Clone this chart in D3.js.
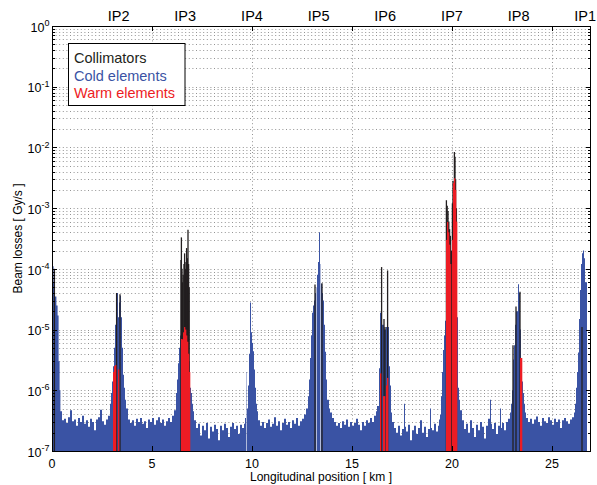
<!DOCTYPE html>
<html>
<head>
<meta charset="utf-8">
<script src="https://cdn.jsdelivr.net/npm/d3@7"></script>
<style>
  body { margin: 0; background: #fff; }
</style>
</head>
<body>
<script>
// tick labels / IP markers
var xTickValues = [0, 5, 10, 15, 20, 25];
var ipNames = ["IP2", "IP3", "IP4", "IP5", "IP6", "IP7", "IP8", "IP1"];
var ipKm = [3.33, 6.66, 10.0, 13.33, 16.66, 20.0, 23.33, 26.66];
var legendNames = ["Collimators", "Cold elements", "Warm elements"];

// cold elements: [km, Gy/s], step starting at km
var cold = [
  [0, 4e-4], [0.03, 1.1e-4], [0.08, 6e-5], [0.15, 3.5e-5], [0.22, 2.5e-5], [0.28, 1.7e-5],
  [0.33, 3e-6], [0.38, 1e-6], [0.42, 4.5e-7], [0.5, 3.2e-7], [0.6, 3.4e-7], [0.7, 2.9e-7],
  [0.8, 3.6e-7], [0.9, 4.7e-7], [1.0, 3.1e-7], [1.1, 3.3e-7], [1.2, 2.6e-7], [1.3, 3.5e-7],
  [1.4, 3e-7], [1.5, 3.8e-7], [1.6, 2.8e-7], [1.7, 3.2e-7], [1.8, 2.5e-7], [1.9, 3.4e-7],
  [2.0, 3e-7], [2.1, 2.2e-7], [2.2, 3.3e-7], [2.3, 3.6e-7], [2.4, 4.8e-7], [2.5, 3.1e-7],
  [2.6, 2.7e-7], [2.7, 3.3e-7], [2.8, 3.8e-7], [2.9, 6e-7], [2.95, 9e-7], [3.0, 1.4e-6],
  [3.05, 2.5e-6], [3.1, 5e-6], [3.15, 1.2e-5], [3.2, 2.5e-5], [3.25, 4e-5], [3.3, 1.6e-5],
  [3.35, 2.8e-5], [3.4, 3.6e-5], [3.45, 1.6e-5], [3.5, 5e-6], [3.55, 1.8e-6], [3.6, 1.1e-6],
  [3.65, 7e-7], [3.7, 5e-7], [3.8, 3.3e-7], [3.9, 2.9e-7], [4.0, 3.2e-7], [4.1, 2.6e-7],
  [4.2, 3.4e-7], [4.3, 3e-7], [4.4, 3.5e-7], [4.5, 2.8e-7], [4.6, 3.1e-7], [4.7, 2.4e-7],
  [4.8, 3.3e-7], [4.9, 3e-7], [5.0, 3.5e-7], [5.1, 2.7e-7], [5.2, 3.2e-7], [5.3, 3.6e-7],
  [5.4, 2.9e-7], [5.5, 3.3e-7], [5.6, 2.6e-7], [5.7, 3.1e-7], [5.8, 3.5e-7], [5.9, 3e-7],
  [6.0, 3.8e-7], [6.1, 4.7e-7], [6.2, 9e-7], [6.25, 1.5e-6], [6.3, 2.8e-6], [6.35, 5e-6],
  [6.4, 8e-6], [6.45, 9e-6], [6.5, 1e-5], [6.6, 1.2e-5], [6.7, 9e-6], [6.8, 6e-6],
  [6.85, 3e-6], [6.9, 1.1e-6], [6.95, 9e-7], [7.0, 6e-7], [7.05, 4.5e-7], [7.1, 3.2e-7],
  [7.2, 2.4e-7], [7.3, 2.8e-7], [7.4, 1.8e-7], [7.5, 2.6e-7], [7.6, 2.2e-7], [7.7, 2.9e-7],
  [7.8, 1.6e-7], [7.9, 2.5e-7], [8.0, 2.1e-7], [8.1, 2.7e-7], [8.2, 2.3e-7], [8.3, 1.5e-7],
  [8.4, 2.6e-7], [8.5, 2.2e-7], [8.6, 2.8e-7], [8.7, 2.4e-7], [8.8, 1.7e-7], [8.9, 2.5e-7],
  [9.0, 2.9e-7], [9.1, 2.3e-7], [9.2, 2.6e-7], [9.3, 1.9e-7], [9.4, 2.7e-7], [9.5, 2.4e-7],
  [9.6, 2.8e-7], [9.65, 3.5e-7], [9.7, 2e-6], [9.72, 1e-7], [9.75, 5e-7], [9.8, 1.2e-6], [9.85, 4e-6],
  [9.9, 2.8e-5], [9.95, 9e-6], [10.0, 6e-6], [10.05, 4.4e-6], [10.1, 2.2e-6], [10.15, 1.1e-6],
  [10.2, 6e-7], [10.25, 4.5e-7], [10.3, 3.2e-7], [10.4, 2.6e-7], [10.5, 3e-7], [10.6, 2.4e-7],
  [10.7, 2.9e-7], [10.8, 3.3e-7], [10.9, 2.5e-7], [11.0, 2.8e-7], [11.1, 3.6e-7], [11.2, 2.6e-7],
  [11.3, 3.1e-7], [11.4, 2.2e-7], [11.5, 2.9e-7], [11.6, 3.4e-7], [11.7, 2.7e-7], [11.8, 3e-7],
  [11.9, 2.4e-7], [12.0, 3.2e-7], [12.1, 2.8e-7], [12.2, 3.5e-7], [12.3, 2.6e-7], [12.4, 3.1e-7],
  [12.5, 3.4e-7], [12.6, 4e-7], [12.7, 5e-7], [12.8, 8e-7], [12.85, 1.5e-6], [12.9, 3.4e-6],
  [12.95, 8e-6], [13.0, 1.9e-5], [13.05, 2.5e-5], [13.1, 3e-5], [13.15, 4e-5], [13.2, 5e-5],
  [13.22, 1e-7], [13.25, 8e-5], [13.3, 1.3e-4], [13.35, 4e-4], [13.4, 1.2e-4], [13.42, 1e-7],
  [13.45, 5.7e-5], [13.5, 4e-5],
  [13.55, 3e-5], [13.6, 1.2e-5], [13.65, 4.3e-6], [13.7, 1.5e-6], [13.75, 7e-7], [13.85, 5e-7],
  [13.9, 4.3e-7], [14.0, 3.5e-7], [14.1, 3e-7], [14.2, 2.6e-7], [14.3, 2.9e-7], [14.4, 2.4e-7],
  [14.5, 3.1e-7], [14.6, 2.7e-7], [14.7, 3.3e-7], [14.8, 2.5e-7], [14.9, 3e-7], [15.0, 2.6e-7],
  [15.1, 2.9e-7], [15.2, 3.4e-7], [15.3, 2.7e-7], [15.4, 2.2e-7], [15.5, 3e-7], [15.6, 2.6e-7],
  [15.7, 3.2e-7], [15.8, 2.9e-7], [15.9, 3.5e-7], [16.0, 3e-7], [16.1, 3.8e-7], [16.2, 4.5e-7],
  [16.25, 5.5e-7], [16.35, 2.3e-6], [16.4, 1.9e-5], [16.5, 1.2e-5], [16.6, 1e-5], [16.7, 1.1e-5],
  [16.85, 2.5e-6], [16.9, 1.2e-6], [16.95, 4.3e-7], [17.0, 3e-7], [17.1, 2.4e-7], [17.2, 2e-7],
  [17.3, 2.6e-7], [17.4, 1.8e-7], [17.5, 2.3e-7], [17.6, 6e-7], [17.65, 2.5e-7], [17.7, 2.1e-7],
  [17.8, 2.7e-7], [17.9, 1.5e-7], [18.0, 2.2e-7], [18.1, 2.6e-7], [18.2, 1.9e-7], [18.3, 2.4e-7],
  [18.4, 3.2e-7], [18.5, 2e-7], [18.6, 2.5e-7], [18.7, 1.7e-7], [18.8, 2.3e-7], [18.9, 5e-7],
  [18.95, 2.4e-7], [19.0, 2.2e-7], [19.1, 2.8e-7], [19.2, 2.1e-7], [19.3, 2.6e-7], [19.35, 3.3e-7],
  [19.4, 4e-7], [19.45, 8e-7], [19.5, 2e-6], [19.55, 4.6e-6], [19.6, 8e-6], [19.65, 1.4e-5],
  [19.7, 3e-5], [19.8, 5e-5], [19.9, 4e-5], [20.0, 3e-5], [20.1, 4e-5], [20.2, 2e-5],
  [20.25, 1.6e-5], [20.3, 1.1e-6], [20.35, 7e-7], [20.4, 4.7e-7], [20.5, 3.2e-7], [20.6, 2.3e-7],
  [20.7, 2.8e-7], [20.8, 2e-7], [20.9, 3.2e-7], [21.0, 2.4e-7], [21.1, 1.7e-7], [21.2, 2.7e-7],
  [21.3, 2.2e-7], [21.4, 3e-7], [21.5, 2.5e-7], [21.6, 1.6e-7], [21.7, 2.6e-7], [21.8, 3.4e-7],
  [21.9, 7e-7], [21.95, 2.8e-7], [22.0, 2.3e-7], [22.1, 2.9e-7], [22.2, 1.9e-7], [22.3, 2.6e-7],
  [22.4, 5e-7], [22.45, 2.4e-7], [22.5, 2.9e-7], [22.6, 2.2e-7], [22.7, 3e-7], [22.8, 3.4e-7],
  [22.9, 4.3e-7], [22.95, 6e-7], [23.0, 1e-6], [23.05, 3.2e-6], [23.1, 5.5e-6], [23.15, 1.2e-5],
  [23.2, 2e-5], [23.3, 5.6e-5], [23.35, 4e-5], [23.4, 1e-5], [23.45, 3e-6], [23.5, 1.4e-6],
  [23.55, 9e-7], [23.6, 6e-7], [23.65, 4.3e-7], [23.7, 3.5e-7], [23.8, 3e-7], [23.9, 3.4e-7],
  [24.0, 2.8e-7], [24.1, 3.3e-7], [24.2, 3.7e-7], [24.3, 3e-7], [24.4, 2.6e-7], [24.5, 3.5e-7],
  [24.6, 3.1e-7], [24.7, 2.9e-7], [24.8, 3.6e-7], [24.9, 3.2e-7], [25.0, 2.7e-7], [25.1, 3.4e-7],
  [25.2, 3e-7], [25.3, 3.3e-7], [25.4, 2.4e-7], [25.5, 3.2e-7], [25.6, 3.5e-7], [25.7, 3.1e-7],
  [25.8, 2.8e-7], [25.9, 3.3e-7], [26.0, 3.6e-7], [26.1, 4.3e-7], [26.15, 6e-7], [26.2, 1.1e-6],
  [26.25, 2e-6], [26.3, 4.2e-6], [26.35, 1.5e-5], [26.4, 4.5e-5], [26.45, 1.2e-4], [26.5, 1.8e-4],
  [26.55, 2e-4], [26.6, 1.5e-4], [26.65, 6e-5], [26.75, 1e-7]
];

// warm elements: [km, Gy/s], 0.05 km bins
var warm = [
  [3.05, 2e-6], [3.1, 2.5e-6], [3.15, 2.6e-6], [3.3, 2.2e-6],
  [6.45, 7e-6], [6.5, 6.9e-6], [6.55, 9e-6], [6.6, 1.1e-5], [6.65, 1e-5], [6.7, 8e-6],
  [6.75, 6.3e-6], [6.8, 4e-6], [6.85, 2e-6],
  [16.4, 1.9e-6], [16.55, 8e-7], [16.6, 8e-7], [16.7, 1.2e-6], [16.75, 1.6e-6],
  [19.7, 3e-4], [19.75, 5.9e-4], [19.8, 4e-4], [19.85, 2.5e-4], [19.9, 1.2e-4],
  [20.0, 3e-4], [20.05, 2.6e-3], [20.1, 3.1e-3], [20.15, 2e-3], [20.2, 6e-4],
  [23.4, 3.4e-6], [23.45, 3.4e-6]
];

// collimators: [km, Gy/s]
var collimators = [
  [0.12, 1e-4],
  [3.23, 4e-5], [3.4, 3.8e-5],
  [6.45, 1.4e-4], [6.47, 3.3e-4], [6.5, 1e-4], [6.53, 6e-5], [6.56, 8e-5], [6.6, 1.2e-4],
  [6.63, 1.8e-4], [6.67, 1e-4], [6.7, 1.3e-4], [6.73, 2.2e-4], [6.77, 1.5e-4], [6.8, 4.4e-4],
  [6.83, 1.2e-4], [6.86, 5e-5],
  [13.15, 5.5e-5], [13.5, 5.8e-5],
  [16.48, 1.07e-4], [16.6, 1.5e-5], [16.65, 1.1e-5], [16.78, 9.4e-5],
  [19.72, 1.35e-3], [19.76, 1.1e-3], [19.8, 9e-4], [19.84, 6e-4], [19.88, 4.5e-4],
  [19.92, 3.5e-4], [19.98, 2e-4], [20.02, 1.2e-3], [20.05, 2.8e-3], [20.08, 2e-3],
  [20.12, 8.4e-3], [20.15, 7e-3], [20.18, 3e-3], [20.22, 1e-3],
  [23.05, 5.5e-6], [23.2, 2.4e-5], [23.4, 4.2e-5],
  [26.5, 1.1e-5]
];

var colBlue = "#3a53a4", colRed = "#ed1c24", colBlack = "#231f20";
var font = "'Liberation Sans', Arial, Helvetica, sans-serif";

var plotL = 52, plotR = 591, plotT = 26, plotB = 451;

var x = d3.scaleLinear().domain([0, 26.95]).range([plotL, plotR]);
var y = d3.scaleLog().domain([1e-7, 1]).range([plotB, plotT]);

var svg = d3.select("body")
  .append("svg")
    .attr("width", 597)
    .attr("height", 485)
    .style("font-family", font);

svg.append("defs").append("clipPath").attr("id", "plotclip")
  .append("rect")
    .attr("x", plotL).attr("y", plotT)
    .attr("width", plotR - plotL).attr("height", plotB - plotT);

var yTicks = y.ticks();
var isMajor = function(d) { return Math.abs(Math.log10(d) - Math.round(Math.log10(d))) < 1e-6; };

// dotted grid
var grid = svg.append("g")
  .attr("stroke", "#666")
  .attr("stroke-width", 0.7)
  .attr("stroke-dasharray", "1,2.6");

grid.selectAll("line.h")
  .data(yTicks.filter(function(d) { return d > 1e-7 && d < 1; }))
  .enter().append("line")
    .attr("class", "h")
    .attr("x1", plotL).attr("x2", plotR)
    .attr("y1", function(d) { return Math.round(y(d)) + 0.5; })
    .attr("y2", function(d) { return Math.round(y(d)) + 0.5; });

grid.selectAll("line.v")
  .data(xTickValues.filter(function(d) { return d > 0; }))
  .enter().append("line")
    .attr("class", "v")
    .attr("y1", plotT).attr("y2", plotB)
    .attr("x1", function(d) { return Math.round(x(d)) + 0.5; })
    .attr("x2", function(d) { return Math.round(x(d)) + 0.5; });

var plot = svg.append("g").attr("clip-path", "url(#plotclip)");

// cold elements
var area = d3.area()
  .curve(d3.curveStepAfter)
  .x(function(d) { return x(d[0]); })
  .y0(y(1e-7))
  .y1(function(d) { return y(d[1]); });

plot.append("path")
  .datum(cold)
  .attr("d", area)
  .attr("fill", colBlue);

// collimators
plot.selectAll("line.coll")
  .data(collimators)
  .enter().append("line")
    .attr("class", "coll")
    .attr("x1", function(d) { return x(d[0]); })
    .attr("x2", function(d) { return x(d[0]); })
    .attr("y1", y(1e-7))
    .attr("y2", function(d) { return y(d[1]); })
    .attr("stroke", colBlack)
    .attr("stroke-width", 1.3);

// warm elements
plot.selectAll("rect.warm")
  .data(warm)
  .enter().append("rect")
    .attr("class", "warm")
    .attr("x", function(d) { return x(d[0]); })
    .attr("width", function(d) { return x(d[0] + 0.05) - x(d[0]) + 0.3; })
    .attr("y", function(d) { return y(d[1]); })
    .attr("height", function(d) { return y(1e-7) - y(d[1]); })
    .attr("fill", colRed);

// frame
svg.append("rect")
  .attr("x", plotL + 0.5).attr("y", plotT + 0.5)
  .attr("width", plotR - plotL - 1).attr("height", plotB - plotT)
  .attr("fill", "none")
  .attr("stroke", "#000")
  .attr("stroke-width", 1);

// y ticks (left and right)
var ticks = svg.append("g").attr("stroke", "#000").attr("stroke-width", 1);
ticks.selectAll("line.yl")
  .data(yTicks)
  .enter().append("line")
    .attr("class", "yl")
    .attr("x1", plotL).attr("x2", function(d) { return plotL + (isMajor(d) ? 5 : 3); })
    .attr("y1", function(d) { return Math.round(y(d)) + 0.5; })
    .attr("y2", function(d) { return Math.round(y(d)) + 0.5; });
ticks.selectAll("line.yr")
  .data(yTicks)
  .enter().append("line")
    .attr("class", "yr")
    .attr("x1", plotR).attr("x2", function(d) { return plotR - (isMajor(d) ? 5 : 3); })
    .attr("y1", function(d) { return Math.round(y(d)) + 0.5; })
    .attr("y2", function(d) { return Math.round(y(d)) + 0.5; });

// x ticks (bottom and top)
ticks.selectAll("line.xb")
  .data(xTickValues)
  .enter().append("line")
    .attr("class", "xb")
    .attr("x1", function(d) { return Math.round(x(d)) + 0.5; })
    .attr("x2", function(d) { return Math.round(x(d)) + 0.5; })
    .attr("y1", plotB).attr("y2", plotB - 5);
ticks.selectAll("line.xt")
  .data(xTickValues)
  .enter().append("line")
    .attr("class", "xt")
    .attr("x1", function(d) { return Math.round(x(d)) + 0.5; })
    .attr("x2", function(d) { return Math.round(x(d)) + 0.5; })
    .attr("y1", plotT).attr("y2", plotT + 5);

// y tick labels
var ylab = svg.selectAll("text.ylab")
  .data(yTicks.filter(isMajor))
  .enter().append("text")
    .attr("class", "ylab")
    .attr("x", 49.5)
    .attr("y", function(d) { return y(d) + 5.7; })
    .attr("text-anchor", "end")
    .style("font-size", "12.5px")
    .text("10");
ylab.append("tspan")
  .attr("dy", -5.5)
  .style("font-size", "9px")
  .text(function(d) { return String(Math.round(Math.log10(d))); });

// x tick labels
svg.selectAll("text.xlab")
  .data(xTickValues)
  .enter().append("text")
    .attr("class", "xlab")
    .attr("x", function(d) { return x(d); })
    .attr("y", 467.5)
    .attr("text-anchor", "middle")
    .style("font-size", "12.5px")
    .text(function(d) { return d; });

// IP labels
svg.selectAll("text.ip")
  .data(ipNames)
  .enter().append("text")
    .attr("class", "ip")
    .attr("x", function(d, i) { return x(ipKm[i]); })
    .attr("y", 21)
    .attr("text-anchor", "middle")
    .style("font-size", "14.5px")
    .text(function(d) { return d; });

// axis titles
svg.append("text")
  .attr("x", 321).attr("y", 481)
  .attr("text-anchor", "middle")
  .style("font-size", "12px")
  .text("Longitudinal position [ km ]");

svg.append("text")
  .attr("transform", "translate(22," + ((plotT + plotB) / 2) + ")rotate(-90)")
  .attr("text-anchor", "middle")
  .style("font-size", "12px")
  .text("Beam losses [ Gy/s ]");

// legend
var lg = svg.append("g");
lg.append("rect")
  .attr("x", 68.5).attr("y", 43.5)
  .attr("width", 116.5).attr("height", 62)
  .attr("fill", "#fff")
  .attr("stroke", "#000")
  .attr("stroke-width", 1);
var legendColors = [colBlack, colBlue, colRed];
var legendBase = [63, 80.5, 98];
lg.selectAll("text")
  .data(legendNames)
  .enter().append("text")
    .attr("x", 74)
    .attr("y", function(d, i) { return legendBase[i]; })
    .attr("fill", function(d, i) { return legendColors[i]; })
    .style("font-size", "14.5px")
    .text(function(d) { return d; });
</script>
</body>
</html>
